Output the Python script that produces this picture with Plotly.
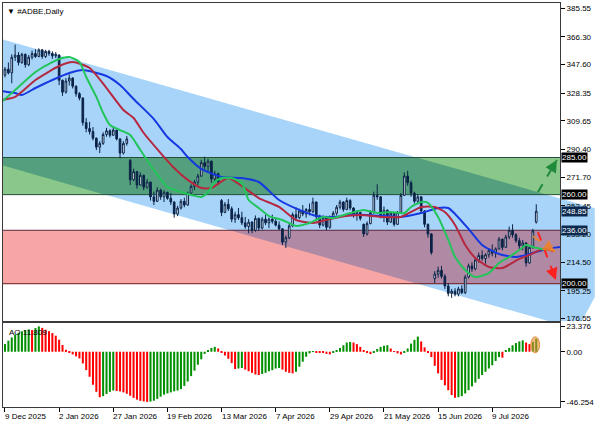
import plotly.graph_objects as go

# ---------------- data ----------------
OPEN = [340.5, 344.5, 342.0, 352.5, 354.0, 349.0, 354.5, 347.5, 352.5, 355.0,
        353.0, 357.5, 353.0, 356.5, 355.0, 353.5, 354.0, 337.0, 329.0, 336.5,
        338.5, 333.0, 328.0, 325.0, 308.5, 304.5, 302.5, 298.0, 292.0, 294.5,
        300.5, 303.0, 300.0, 303.5, 297.5, 288.0, 294.5, 283.0, 270.0, 275.5,
        266.5, 273.0, 265.0, 268.5, 258.5, 255.5, 263.0, 258.5, 261.5, 257.5,
        255.0, 247.0, 251.0, 255.5, 253.0, 261.0, 265.5, 268.5, 272.5, 281.5,
        279.0, 282.5, 270.5, 274.0, 256.0, 248.0, 253.5, 250.5, 243.5, 246.5,
        244.5, 241.0, 238.5, 241.5, 236.0, 244.0, 237.5, 243.5, 241.0, 243.5,
        242.0, 239.5, 237.0, 228.0, 231.0, 239.0, 246.5, 244.5, 249.0, 247.0,
        250.0, 248.5, 255.0, 245.0, 239.5, 244.5, 238.0, 245.0, 247.5, 251.5,
        255.0, 250.0, 256.0, 251.0, 246.0, 248.0, 240.0, 233.5, 240.5, 248.0,
        259.5, 258.5, 246.5, 249.5, 241.5, 247.5, 240.0, 248.0, 259.5, 272.5,
        268.0, 261.0, 255.5, 258.5, 249.0, 240.0, 233.5, 203.5, 206.5, 209.0,
        205.0, 198.5, 193.5, 195.0, 193.0, 196.5, 194.0, 204.5, 212.0, 210.0,
        216.0, 219.0, 217.0, 219.5, 222.5, 220.5, 223.5, 230.0, 224.5, 231.5,
        236.0, 233.0, 229.0, 225.5, 227.5, 214.0, 224.5, 241.5]
HIGH = [346.0, 349.0, 354.5, 361.0, 356.0, 355.5, 355.0, 354.0, 357.0, 358.0,
        358.5, 358.0, 357.5, 357.5, 356.5, 356.0, 354.5, 337.5, 338.5, 341.0,
        339.0, 333.5, 329.0, 325.5, 311.5, 309.0, 305.5, 298.5, 296.0, 302.0,
        305.0, 304.0, 305.0, 303.5, 298.0, 296.0, 299.5, 284.0, 277.5, 276.0,
        275.0, 273.5, 270.5, 268.5, 262.0, 265.0, 264.0, 263.0, 262.0, 261.0,
        255.5, 252.5, 257.0, 258.0, 262.0, 267.0, 270.0, 274.0, 283.5, 285.5,
        284.0, 283.0, 276.0, 275.0, 257.0, 255.0, 257.0, 252.0, 248.5, 251.0,
        248.5, 245.0, 243.5, 242.0, 246.0, 244.5, 245.0, 246.5, 244.5, 246.5,
        244.5, 242.0, 237.5, 232.5, 240.5, 248.0, 251.5, 250.5, 253.0, 251.0,
        254.0, 258.0, 255.5, 246.5, 246.0, 245.0, 246.0, 249.0, 253.0, 256.5,
        255.5, 258.0, 257.0, 251.5, 249.5, 248.5, 240.5, 242.0, 249.5, 262.0,
        267.0, 259.0, 252.0, 250.0, 249.0, 248.0, 249.0, 261.0, 275.0, 276.0,
        269.5, 262.0, 260.5, 259.0, 249.5, 240.5, 234.0, 208.5, 211.5, 212.0,
        206.5, 200.5, 196.5, 197.0, 198.0, 199.0, 206.0, 213.5, 214.5, 217.5,
        221.0, 222.5, 220.5, 224.0, 226.5, 224.5, 231.5, 230.5, 233.0, 238.5,
        240.0, 234.0, 231.0, 229.5, 228.0, 225.5, 237.0, 253.5]
LOW = [339.0, 341.0, 335.0, 350.0, 347.0, 348.0, 345.5, 346.5, 351.0, 352.0,
       352.5, 351.5, 352.0, 353.5, 351.5, 352.0, 333.8, 326.5, 328.0, 333.5,
       331.5, 326.0, 323.5, 306.5, 302.0, 300.5, 296.5, 290.0, 288.0, 293.5,
       299.0, 298.5, 299.5, 296.5, 284.5, 287.0, 293.0, 266.5, 269.0, 264.0,
       266.0, 263.0, 264.0, 256.0, 253.0, 255.0, 256.5, 255.0, 256.5, 253.0,
       244.5, 245.5, 250.0, 251.5, 252.5, 260.0, 263.0, 266.0, 272.0, 277.0,
       275.5, 268.0, 268.0, 266.5, 245.5, 247.5, 249.0, 241.5, 241.0, 243.0,
       239.5, 237.0, 234.0, 234.0, 235.0, 235.5, 236.5, 239.5, 237.5, 240.5,
       238.5, 236.0, 226.0, 224.0, 230.0, 238.0, 242.5, 243.5, 245.5, 244.5,
       246.0, 247.5, 243.0, 237.5, 238.5, 236.0, 237.0, 243.5, 246.0, 250.0,
       248.5, 249.5, 249.5, 244.5, 242.5, 242.5, 231.5, 232.5, 240.0, 247.0,
       256.5, 244.0, 241.5, 239.5, 241.0, 238.5, 239.5, 247.5, 259.0, 266.0,
       258.5, 254.0, 253.5, 247.0, 238.0, 231.0, 219.5, 200.5, 204.0, 203.5,
       196.5, 191.5, 190.5, 191.5, 191.5, 193.0, 193.0, 203.5, 208.0, 209.0,
       214.0, 215.5, 213.5, 217.5, 218.5, 217.5, 223.0, 222.5, 224.0, 230.0,
       231.0, 227.5, 223.5, 222.5, 211.5, 213.5, 223.5, 240.5]
CLOSE = [344.5, 342.0, 352.5, 354.0, 349.0, 354.5, 347.5, 352.5, 355.0, 353.0,
         357.5, 353.0, 356.5, 355.0, 353.5, 354.5, 337.0, 329.0, 336.5, 338.5,
         333.0, 328.0, 325.0, 308.5, 304.5, 302.5, 298.0, 292.0, 294.5, 300.5,
         303.0, 300.0, 303.5, 297.5, 288.0, 294.5, 297.5, 270.0, 275.5, 266.5,
         273.0, 265.0, 268.5, 258.5, 255.5, 263.0, 258.5, 261.5, 257.5, 255.0,
         247.0, 251.0, 255.5, 253.0, 261.0, 265.5, 268.5, 272.5, 281.5, 279.0,
         282.5, 270.5, 274.0, 268.5, 248.0, 253.5, 250.5, 243.5, 246.5, 244.5,
         241.0, 238.5, 241.5, 236.0, 244.0, 237.5, 243.5, 241.0, 243.5, 242.0,
         239.5, 237.0, 228.0, 231.0, 239.0, 246.5, 244.5, 249.0, 247.0, 250.0,
         248.5, 255.0, 245.0, 239.5, 244.5, 238.0, 245.0, 247.5, 251.5, 255.0,
         250.0, 256.0, 251.0, 246.0, 248.0, 244.0, 233.5, 240.5, 248.0, 259.5,
         258.5, 246.5, 249.5, 241.5, 247.5, 240.0, 248.0, 259.5, 272.5, 268.0,
         261.0, 255.5, 258.5, 249.0, 240.0, 233.5, 221.0, 206.5, 209.0, 205.0,
         198.5, 193.5, 195.0, 193.0, 196.5, 194.0, 204.5, 212.0, 210.0, 216.0,
         219.0, 217.0, 219.5, 222.5, 220.5, 223.5, 230.0, 224.5, 231.5, 236.0,
         233.0, 229.0, 225.5, 227.5, 214.0, 224.5, 235.5, 248.85]

AO = [7.1, 10.2, 13.2, 15.7, 17.5, 18.8, 20.0, 20.6, 20.0, 21.8,
      23.376, 22.0, 20.3, 19.0, 17.2, 14.8, 11.1, 6.2, 1.8, -1.2,
      -2.5, -4.3, -6.2, -10.8, -16.9, -23.1, -30.5, -37.0, -42.0, -41.0,
      -39.0, -37.0, -35.8, -36.2, -36.6, -37.5, -38.8, -40.6, -42.6, -44.2,
      -45.3, -45.9, -46.254, -46.0, -45.2, -43.5, -41.5, -39.6, -38.5, -37.5,
      -36.5, -35.8, -34.5, -31.5, -27.5, -22.5, -17.5, -12.0, -7.0, -2.0,
      1.5, 3.5, 4.5, 3.0, -0.8, -3.5, -6.5, -10.5, -16.0, -15.5,
      -15.0, -16.5, -18.0, -19.5, -21.0, -21.5, -20.5, -19.5, -18.0, -17.0,
      -15.5, -15.0, -16.5, -18.5, -19.5, -20.0, -18.5, -13.8, -9.2, -4.6,
      -1.5, 0.5, -0.5, -1.0, -1.2, -2.0, -2.5, -1.0, 1.5, 3.5,
      6.0, 8.5, 9.0, 8.5, 7.0, 4.5, 1.5, -1.0, -2.2, -1.0,
      2.5, 4.5, 5.5, 6.0, 3.0, 0.5, -1.5, -2.5, -1.0, 3.0,
      7.5, 11.0, 14.0, 9.5, 4.0, -0.5, -5.0, -13.0, -20.0, -26.0,
      -31.0, -35.5, -40.0, -42.5, -42.0, -41.0, -38.5, -35.5, -32.0, -28.5,
      -25.0, -21.5, -18.5, -15.5, -12.5, -8.5, -5.0, -5.5, 1.0, 3.5,
      6.0, 8.0, 9.5, 10.5, 8.5, 7.0, 9.0, 11.809]

# Alligator lines (bar index, price)
JAW_BARS = [-1, 3, 5, 9, 14, 19, 23, 26, 30, 34, 38, 44, 48, 52, 54, 58, 64, 70, 75,
            81, 87, 92, 97, 102, 107, 112, 117, 123, 128, 131, 133, 137, 141, 146,
            151, 156, 160, 164]
JAW_VALS = [329.8, 328.4, 327.1, 331.8, 337.2, 341.9, 343.9, 342.6, 339.9, 333.8,
            324.4, 310.9, 298.8, 290.7, 285.3, 277.3, 271.9, 271.2, 268.5, 256.4,
            249.7, 245.6, 245.0, 246.3, 246.3, 245.6, 245.0, 247.6, 251.0, 251.0,
            247.0, 236.9, 226.1, 220.0, 218.0, 220.7, 223.4, 224.7]
TEETH_BARS = [-1, 3, 9, 16, 20, 25, 30, 35, 38, 41, 46, 50, 54, 58, 61, 66, 70, 75,
              81, 86, 91, 95, 99, 105, 111, 117, 123, 127, 130, 133, 136, 139, 143,
              147, 152, 155, 159, 162]
TEETH_VALS = [323.7, 325.8, 337.2, 346.6, 349.3, 345.3, 331.8, 317.0, 311.6, 301.5,
              288.0, 277.9, 269.9, 264.5, 264.5, 271.2, 265.8, 257.7, 251.7, 242.9,
              240.9, 242.9, 245.0, 246.3, 245.0, 245.0, 251.7, 251.7, 248.3, 239.6,
              226.1, 217.3, 211.3, 210.6, 216.7, 219.4, 223.4, 222.1]
LIPS_BARS = [-1, 4, 9, 14, 17, 19, 22, 24, 27, 29, 31, 34, 37, 40, 44, 48, 52, 55,
             58, 60, 62, 64, 67, 70, 72, 75, 78, 82, 86, 90, 94, 97, 102, 106, 110,
             114, 118, 120, 123, 125, 128, 131, 133, 136, 139, 143, 146, 149, 152,
             154, 156, 160]
LIPS_VALS = [322.4, 332.5, 342.6, 349.3, 352.0, 352.7, 349.3, 339.2, 325.8, 315.0,
             306.9, 303.5, 300.2, 290.1, 276.6, 265.2, 261.8, 259.8, 258.4, 261.8,
             268.5, 271.2, 271.2, 267.8, 256.4, 251.0, 245.6, 242.9, 238.9, 240.9,
             245.0, 244.3, 247.6, 249.7, 247.6, 248.3, 247.6, 251.7, 255.0, 254.4,
             244.9, 229.5, 218.0, 209.3, 204.5, 207.2, 214.0, 218.0, 222.7, 226.1,
             224.7, 222.7]

DATE_LABELS = ["9 Dec 2025", "2 Jan 2026", "27 Jan 2026", "19 Feb 2026", "13 Mar 2026",
               "7 Apr 2026", "29 Apr 2026", "21 May 2026", "15 Jun 2026", "9 Jul 2026"]
DATE_LABEL_BARS = [0, 16, 32, 48, 64, 80, 96, 112, 128, 144]

PRICE_TICKS = [385.55, 366.30, 347.60, 328.35, 309.65, 290.40, 271.70, 252.45,
               233.20, 214.50, 195.25, 176.55]
AO_TICKS = [23.376, 0.0, -46.254]
AO_TICK_TEXT = ["23.376", "0.00", "-46.254"]

GREEN_ZONE = (260.0, 285.0)
RED_ZONE = (200.0, 236.0)
PRICE_TAGS = [285.00, 260.00, 248.85, 236.00, 200.00]
PRICE_TAG_BG = ["#000000", "#000000", "#0d2a50", "#0d2a50", "#000000"]

# drawn channel (upper line anchors: bar, price) and its vertical width
CHANNEL_UPPER = [(-1.18, 364.8), (174.3, 250.8)]
CHANNEL_WIDTH = 84.85
CHANNEL_END = [(174.3, 191.1), (170.5, 173.6)]

GREEN_ARROW = [(157.5, 261.8), (163.1, 283.3)]
RED_ARROW = [(157.5, 234.8), (162.8, 202.5)]
ORANGE_ARROW = [(156.0, 232.0), (162.6, 221.5)]

# ---------------- layout constants ----------------
FONT = "Liberation Sans"
X_RANGE = [-0.589, 164.02]
PRICE_RANGE = [174.91, 389.05]
AO_RANGE = [-51.0, 26.5]
MAIN_DOMAIN = [0.2129, 1.0]
AO_DOMAIN = [0.0, 0.2079]
CANDLE = "#0b2347"
BLUE = "#a8d4fa"
GREEN_FILL = "#8ac78a"
GREEN_ON_BLUE = "#54a07e"
RED_FILL = "#f8a5a5"
RED_ON_BLUE = "#b08aa4"

bars = list(range(len(CLOSE)))
fig = go.Figure()

fig.add_trace(go.Candlestick(
    x=bars, open=OPEN, high=HIGH, low=LOW, close=CLOSE,
    increasing=dict(line=dict(color=CANDLE, width=1), fillcolor="white"),
    decreasing=dict(line=dict(color=CANDLE, width=1), fillcolor=CANDLE),
    whiskerwidth=0, xaxis="x", yaxis="y", showlegend=False, hoverinfo="skip"))

for xs, ys, col in [(JAW_BARS, JAW_VALS, "#1638e0"),
                    (TEETH_BARS, TEETH_VALS, "#b52840"),
                    (LIPS_BARS, LIPS_VALS, "#22c55a")]:
    fig.add_trace(go.Scatter(x=xs, y=ys, mode="lines", xaxis="x", yaxis="y",
                             line=dict(color=col, width=2, shape="spline", smoothing=0.6),
                             showlegend=False, hoverinfo="skip"))

ao_colors = ["#009000" if i == 0 or AO[i] > AO[i - 1] else "#ff0000" for i in range(len(AO))]
fig.add_trace(go.Bar(x=bars, y=AO, marker=dict(color=ao_colors, line=dict(width=0)),
                     xaxis="x2", yaxis="y2", showlegend=False, hoverinfo="skip"))


# ---------------- channel & zones ----------------
def upper(b):
    (b0, p0), (b1, p1) = CHANNEL_UPPER
    return p0 + (p1 - p0) * (b - b0) / (b1 - b0)


channel = [(-5, upper(-5)), (170, upper(170)), (170, upper(170) - CHANNEL_WIDTH),
           (-5, upper(-5) - CHANNEL_WIDTH)]


def clip_half(poly, keep, cross):
    out = []
    n = len(poly)
    for k in range(n):
        a, b = poly[k], poly[(k + 1) % n]
        ia, ib = keep(a), keep(b)
        if ia:
            out.append(a)
        if ia != ib:
            out.append(cross(a, b))
    return out


def cross_at(level):
    def f(a, b):
        t = (level - a[1]) / (b[1] - a[1])
        return (a[0] + t * (b[0] - a[0]), level)
    return f


def band_clip(poly, lo, hi):
    p = clip_half(poly, lambda q: q[1] >= lo, cross_at(lo))
    p = clip_half(p, lambda q: q[1] <= hi, cross_at(hi))
    return p


def path_of(pts):
    return "M " + " L ".join(f"{x:.3f},{y:.3f}" for x, y in pts) + " Z"


def bar_to_paper(b):
    return (b - X_RANGE[0]) / (X_RANGE[1] - X_RANGE[0])


def price_to_paper(p):
    p = max(p, PRICE_RANGE[0])
    return MAIN_DOMAIN[0] + (p - PRICE_RANGE[0]) / (PRICE_RANGE[1] - PRICE_RANGE[0]) * (
        MAIN_DOMAIN[1] - MAIN_DOMAIN[0])


shapes = []
shapes.append(dict(type="path", xref="x", yref="y", path=path_of(channel),
                   fillcolor=BLUE, line=dict(width=0), layer="below"))
for (lo, hi), fill, dark in [(GREEN_ZONE, GREEN_FILL, GREEN_ON_BLUE),
                             (RED_ZONE, RED_FILL, RED_ON_BLUE)]:
    shapes.append(dict(type="rect", xref="x", yref="y", x0=-5, x1=170, y0=lo, y1=hi,
                       fillcolor=fill, line=dict(width=0), layer="below"))
    inter = band_clip(channel, lo, hi)
    if inter:
        shapes.append(dict(type="path", xref="x", yref="y", path=path_of(inter),
                           fillcolor=dark, line=dict(width=0), layer="below"))
for lvl, col in [(GREEN_ZONE[0], "#24503a"), (GREEN_ZONE[1], "#24503a"),
                 (RED_ZONE[0], "#6e1a1a"), (RED_ZONE[1], "#5a2a3e")]:
    shapes.append(dict(type="line", xref="x", yref="y", x0=-5, x1=170, y0=lvl, y1=lvl,
                       line=dict(color=col, width=1), layer="below"))

# part of the channel that spills over the price scale (paper units -> not clipped)
xr = X_RANGE[1]
over = [(xr, upper(xr)), (CHANNEL_UPPER[1][0], upper(CHANNEL_UPPER[1][0])),
        CHANNEL_END[0], CHANNEL_END[1], (xr, CHANNEL_END[1][1])]
over_path = "M " + " L ".join(
    f"{bar_to_paper(x):.5f},{price_to_paper(p):.5f}" for x, p in over) + " Z"
shapes.append(dict(type="path", xref="paper", yref="paper", path=over_path,
                   fillcolor=BLUE, line=dict(width=0), layer="below"))

# dashed arrows
ARROW_COLORS = ["#1f8a3a", "#ff2020", "rgba(240,130,40,0.85)"]
for (a, b), col in zip([GREEN_ARROW, RED_ARROW, ORANGE_ARROW], ARROW_COLORS):
    shapes.append(dict(type="line", xref="x", yref="y", x0=a[0], y0=a[1], x1=b[0], y1=b[1],
                       line=dict(color=col, width=2, dash="dash"), layer="above"))

# AO highlight
shapes.append(dict(type="circle", xref="x2", yref="y2", x0=155.4, x1=158.0, y0=-1.0, y1=13.8,
                   fillcolor="rgba(226,140,50,0.6)", line=dict(color="rgba(226,140,50,0.9)", width=1),
                   layer="above"))

annotations = []
for (a, b), col in zip([GREEN_ARROW, RED_ARROW, ORANGE_ARROW], ARROW_COLORS):
    t = 0.8
    annotations.append(dict(x=b[0], y=b[1], xref="x", yref="y",
                            ax=a[0] + t * (b[0] - a[0]), ay=a[1] + t * (b[1] - a[1]),
                            axref="x", ayref="y", showarrow=True, arrowhead=2,
                            arrowsize=1.2, arrowwidth=2, arrowcolor=col, text=""))

for price, bg in zip(PRICE_TAGS, PRICE_TAG_BG):
    annotations.append(dict(xref="paper", x=1.0, xanchor="left", xshift=1, yref="y", y=price,
                            text=f"{price:.2f}", showarrow=False, bgcolor=bg, borderpad=0,
                            font=dict(color="white", size=8, family=FONT)))

for b, lab in zip(DATE_LABEL_BARS, DATE_LABELS):
    annotations.append(dict(xref="x2", x=b, xanchor="left", xshift=-2, yref="paper", y=0,
                            yanchor="top", yshift=-3, text=lab, showarrow=False,
                            font=dict(color="black", size=8, family=FONT)))

annotations.append(dict(xref="paper", x=0.004, xanchor="left", yref="paper", y=1.0,
                        yanchor="top", yshift=-2, text="\u25bc #ADBE,Daily", showarrow=False,
                        font=dict(color="black", size=8, family=FONT)))
annotations.append(dict(xref="paper", x=0.008, xanchor="left", yref="paper", y=AO_DOMAIN[1],
                        yanchor="top", yshift=-3, text="AO 11.809", showarrow=False,
                        font=dict(color="black", size=8, family=FONT)))

axis_common = dict(showgrid=False, zeroline=False, showline=True, mirror=True,
                   linecolor="#3a3a3a", linewidth=1)
fig.update_layout(
    width=596, height=425,
    margin=dict(l=2, r=35, t=3, b=18),
    paper_bgcolor="white", plot_bgcolor="white",
    bargap=0.4, showlegend=False,
    font=dict(family=FONT, size=8, color="black"),
    xaxis=dict(domain=[0, 1], range=X_RANGE, anchor="y", showticklabels=False, ticks="",
               rangeslider=dict(visible=False), **axis_common),
    yaxis=dict(domain=MAIN_DOMAIN, range=PRICE_RANGE, anchor="x", side="right",
               tickvals=PRICE_TICKS, ticktext=[f"{v:.2f}" for v in PRICE_TICKS],
               ticks="outside", ticklen=4, tickcolor="black",
               tickfont=dict(size=8, family=FONT, color="black"), **axis_common),
    xaxis2=dict(domain=[0, 1], range=X_RANGE, anchor="y2", tickvals=DATE_LABEL_BARS,
                showticklabels=False, ticks="outside", ticklen=4, tickcolor="black",
                **axis_common),
    yaxis2=dict(domain=AO_DOMAIN, range=AO_RANGE, anchor="x2", side="right",
                tickvals=AO_TICKS, ticktext=AO_TICK_TEXT, ticks="outside", ticklen=4,
                tickcolor="black", tickfont=dict(size=8, family=FONT, color="black"),
                **axis_common),
    shapes=shapes, annotations=annotations,
)

fig.write_html("out.html")
